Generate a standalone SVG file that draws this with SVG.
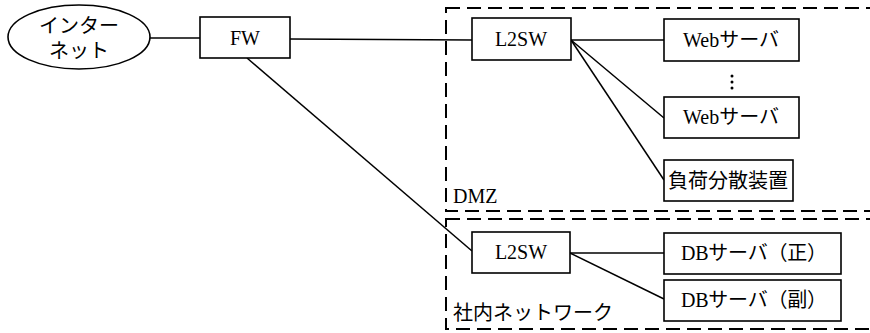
<svg xmlns="http://www.w3.org/2000/svg" width="870" height="333" viewBox="0 0 870 333" font-family="'Liberation Serif', 'Times New Roman', 'Noto Sans CJK JP', serif">
<style>
.box{fill:#fff;stroke:#000;stroke-width:1.6}
.ln{fill:none;stroke:#000;stroke-width:1.5}
.zone{fill:none;stroke:#000;stroke-width:2;stroke-dasharray:14 7}
text{font-family:'Liberation Serif','Times New Roman','Noto Sans CJK JP',serif;font-size:20px;fill:#000;font-weight:normal}
.c{text-anchor:middle}
</style>
<rect width="870" height="333" fill="#fff"/>
<g id="zones">
<rect id="dmz" class="zone" x="446" y="8" width="440" height="203"/>
<rect id="intranet" class="zone" x="446" y="219" width="440" height="110"/>
<text x="453" y="203">DMZ</text>
<text x="453" y="320">社内ネットワーク</text>
</g>
<g id="connectors">
<line class="ln" x1="150" y1="38" x2="200" y2="38"/>
<line class="ln" x1="290" y1="39" x2="472" y2="40"/>
<line class="ln" x1="571" y1="40" x2="664" y2="40"/>
<line class="ln" x1="571" y1="40" x2="664" y2="118"/>
<line class="ln" x1="571" y1="40" x2="664" y2="180"/>
<line class="ln" x1="247" y1="58" x2="472" y2="251"/>
<line class="ln" x1="570" y1="253" x2="664" y2="253"/>
<line class="ln" x1="570" y1="253" x2="664" y2="299"/>
</g>
<g id="internet">
<ellipse class="box" cx="79" cy="37" rx="71" ry="32"/>
<text class="c" x="79" y="33">インター</text>
<text class="c" x="79" y="58">ネット</text>
</g>
<g id="fw">
<rect class="box" x="200" y="17" width="90" height="41"/>
<text class="c" x="245" y="45">FW</text>
</g>
<g id="l2sw-dmz">
<rect class="box" x="472" y="18" width="99" height="42"/>
<text class="c" x="521" y="46">L2SW</text>
</g>
<g id="web1">
<rect class="box" x="664" y="19" width="135" height="42"/>
<text class="c" x="731" y="47">Webサーバ</text>
</g>
<g id="dots">
<circle cx="732" cy="76" r="1.5"/>
<circle cx="732" cy="82" r="1.5"/>
<circle cx="732" cy="88" r="1.5"/>
</g>
<g id="web2">
<rect class="box" x="664" y="97" width="135" height="41"/>
<text class="c" x="731" y="124">Webサーバ</text>
</g>
<g id="lb">
<rect class="box" x="664" y="160" width="129" height="41"/>
<text class="c" x="728" y="188">負荷分散装置</text>
</g>
<g id="l2sw-intranet">
<rect class="box" x="472" y="232" width="98" height="41"/>
<text class="c" x="521" y="259">L2SW</text>
</g>
<g id="db-primary">
<rect class="box" x="664" y="233" width="177" height="41"/>
<text class="c" x="754" y="260" textLength="146" lengthAdjust="spacing">DBサーバ（正）</text>
</g>
<g id="db-secondary">
<rect class="box" x="664" y="280" width="177" height="41"/>
<text class="c" x="754" y="307" textLength="146" lengthAdjust="spacing">DBサーバ（副）</text>
</g>
</svg>
